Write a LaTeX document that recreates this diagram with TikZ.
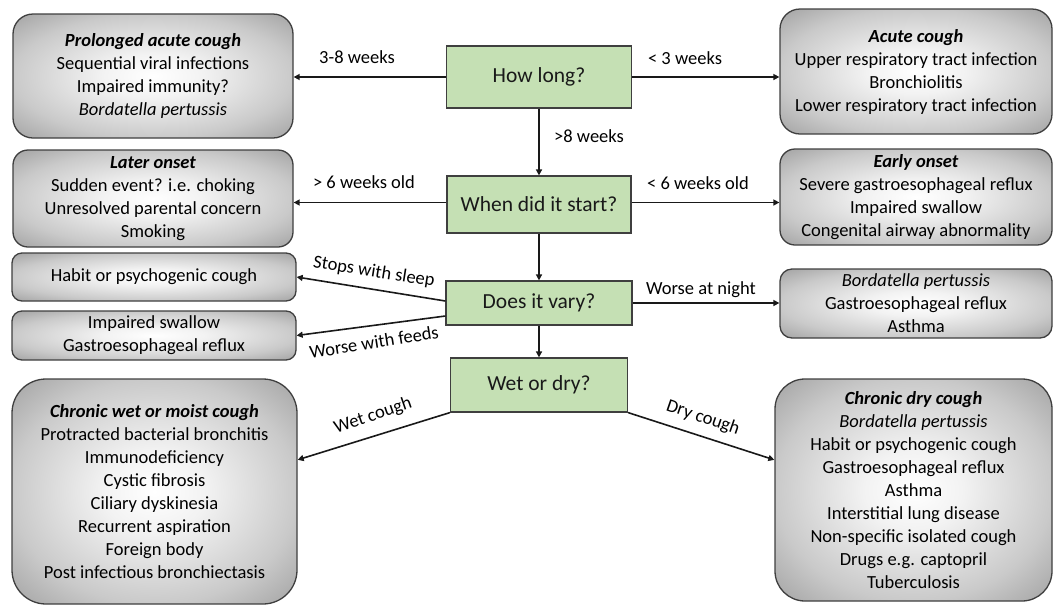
\documentclass[tikz,border=0pt]{standalone}
\usepackage{fontspec}
\setmainfont{Carlito}
\usetikzlibrary{arrows.meta,calc}
\definecolor{qgreen}{HTML}{C5E0B4}
\definecolor{bordc}{HTML}{3F3F3F}
\pgfdeclareradialshading{greybox}{\pgfpoint{0bp}{0bp}}{color(0bp)=(white); color(9bp)=(white!95!black); color(25bp)=(white!79!black); color(36bp)=(white!63!black); color(50bp)=(white!63!black)}
\newcommand\myboxfont{\fontsize{18.5}{23}\selectfont}
\newcommand\myqfont{\fontsize{21.5}{26}\selectfont}
\tikzset{
  gbox/.style={draw=bordc, line width=1.3pt, shade, shading=greybox, align=center, inner sep=0pt, font=\myboxfont, text=black},
  qbox/.style={draw=bordc, line width=1.2pt, fill=qgreen, align=center, inner sep=0pt, font=\myqfont, text=black!90},
  conn/.style={line width=1.6pt, draw=black!90, -{Triangle[length=6pt,width=6pt]}},
  lab/.style={font=\myboxfont, inner sep=0pt, text=black}
}
\begin{document}
\begin{tikzpicture}[x=1pt,y=-1pt]
\useasboundingbox (0,0) rectangle (1057,606);
% question boxes
\node[qbox, minimum width=185pt, minimum height=62pt] (howlong) at (539,77) {How long?};
\node[qbox, minimum width=184pt, minimum height=57pt] (when) at (539,204.5) {When did it start?};
\node[qbox, minimum width=186pt, minimum height=44pt] (vary) at (539,303) {Does it vary?};
\node[qbox, minimum width=177pt, minimum height=54pt] (wet) at (539,385) {Wet or dry?};
% left boxes
\node[gbox, minimum width=280pt, minimum height=124pt, rounded corners=20pt] (prolonged) at (153,76)
  {\textbf{\textit{Prolonged acute cough}}\\Sequential viral infections\\Impaired immunity?\\\textit{Bordatella pertussis}};
\node[gbox, minimum width=280pt, minimum height=97pt, rounded corners=15pt] (later) at (153,198.5)
  {\textbf{\textit{Later onset}}\\Sudden event? i.e. choking\\Unresolved parental concern\\Smoking};
\node[gbox, minimum width=284pt, minimum height=48pt, rounded corners=10pt] (habit) at (154,277)
  {Habit or psychogenic cough};
\node[gbox, minimum width=284pt, minimum height=49pt, rounded corners=10pt] (impaired) at (154,335.5)
  {Impaired swallow\\Gastroesophageal reflux};
\node[gbox, minimum width=285pt, minimum height=225pt, rounded corners=34pt] (wetbox) at (154.5,491.5)
  {\textbf{\textit{Chronic wet or moist cough}}\\Protracted bacterial bronchitis\\Immunodeficiency\\Cystic fibrosis\\Ciliary dyskinesia\\Recurrent aspiration\\Foreign body\\Post infectious bronchiectasis};
% right boxes
\node[gbox, minimum width=272pt, minimum height=125pt, rounded corners=20pt] (acute) at (916,71.5)
  {\textbf{\textit{Acute cough}}\\Upper respiratory tract infection\\Bronchiolitis\\Lower respiratory tract infection};
\node[gbox, minimum width=272pt, minimum height=96pt, rounded corners=15pt] (early) at (916,197)
  {\textbf{\textit{Early onset}}\\Severe gastroesophageal reflux\\Impaired swallow\\Congenital airway abnormality};
\node[gbox, minimum width=272pt, minimum height=69pt, rounded corners=12pt] (night) at (916,303.5)
  {\textit{Bordatella pertussis}\\Gastroesophageal reflux\\Asthma};
\node[gbox, minimum width=277pt, minimum height=222pt, rounded corners=30pt] (dry) at (913.5,490)
  {\textbf{\textit{Chronic dry cough}}\\\textit{Bordatella pertussis}\\Habit or psychogenic cough\\Gastroesophageal reflux\\Asthma\\Interstitial lung disease\\Non-specific isolated cough\\Drugs e.g. captopril\\Tuberculosis};
% connector end points
\coordinate (whenW) at ($(when.west)+(0,-2)$);
\coordinate (whenE) at ($(when.east)+(0,-2)$);
\coordinate (varyA) at ($(vary.west)+(0,-2)$);
\coordinate (varyB) at ($(vary.west)+(0,13)$);
\coordinate (wetIn) at ($(wetbox.north east)!0.36!(wetbox.south east)$);
\coordinate (dryIn) at ($(dry.north west)!0.365!(dry.south west)$);
% connectors
\draw[conn] (howlong.west) -- (howlong.west -| prolonged.east);
\draw[conn] (howlong.east) -- (howlong.east -| acute.west);
\draw[conn] (howlong.south) -- (when.north);
\draw[conn] (whenW) -- (whenW -| later.east);
\draw[conn] (whenE) -- (whenE -| early.west);
\draw[conn] (when.south) -- (vary.north);
\draw[conn] (varyA) -- (habit.east);
\draw[conn] (varyB) -- (impaired.east);
\draw[conn] (vary.east) -- (vary.east -| night.west);
\draw[conn] (vary.south) -- (wet.north);
\draw[conn] (wet.south west) -- (wetIn);
\draw[conn] (wet.south east) -- (dryIn);
% labels
\node[lab] (l1) at (357,57) {3-8 weeks};
\node[lab] (l2) at (685,58) {< 3 weeks};
\node[lab] (l3) at (589,136) {>8 weeks};
\node[lab] (l4) at (364,182) {> 6 weeks old};
\node[lab] (l5) at (698,183) {< 6 weeks old};
\node[lab, rotate=-9] (l6) at (374,272) {Stops with sleep};
\node[lab, rotate=9] (l7) at (374,342) {Worse with feeds};
\node[lab] (l8) at (701,290) {Worse at night};
\node[lab, rotate=19] (l9) at (373,416) {Wet cough};
\node[lab, rotate=-19] (l10) at (703,418) {Dry cough};
\end{tikzpicture}
\end{document}
